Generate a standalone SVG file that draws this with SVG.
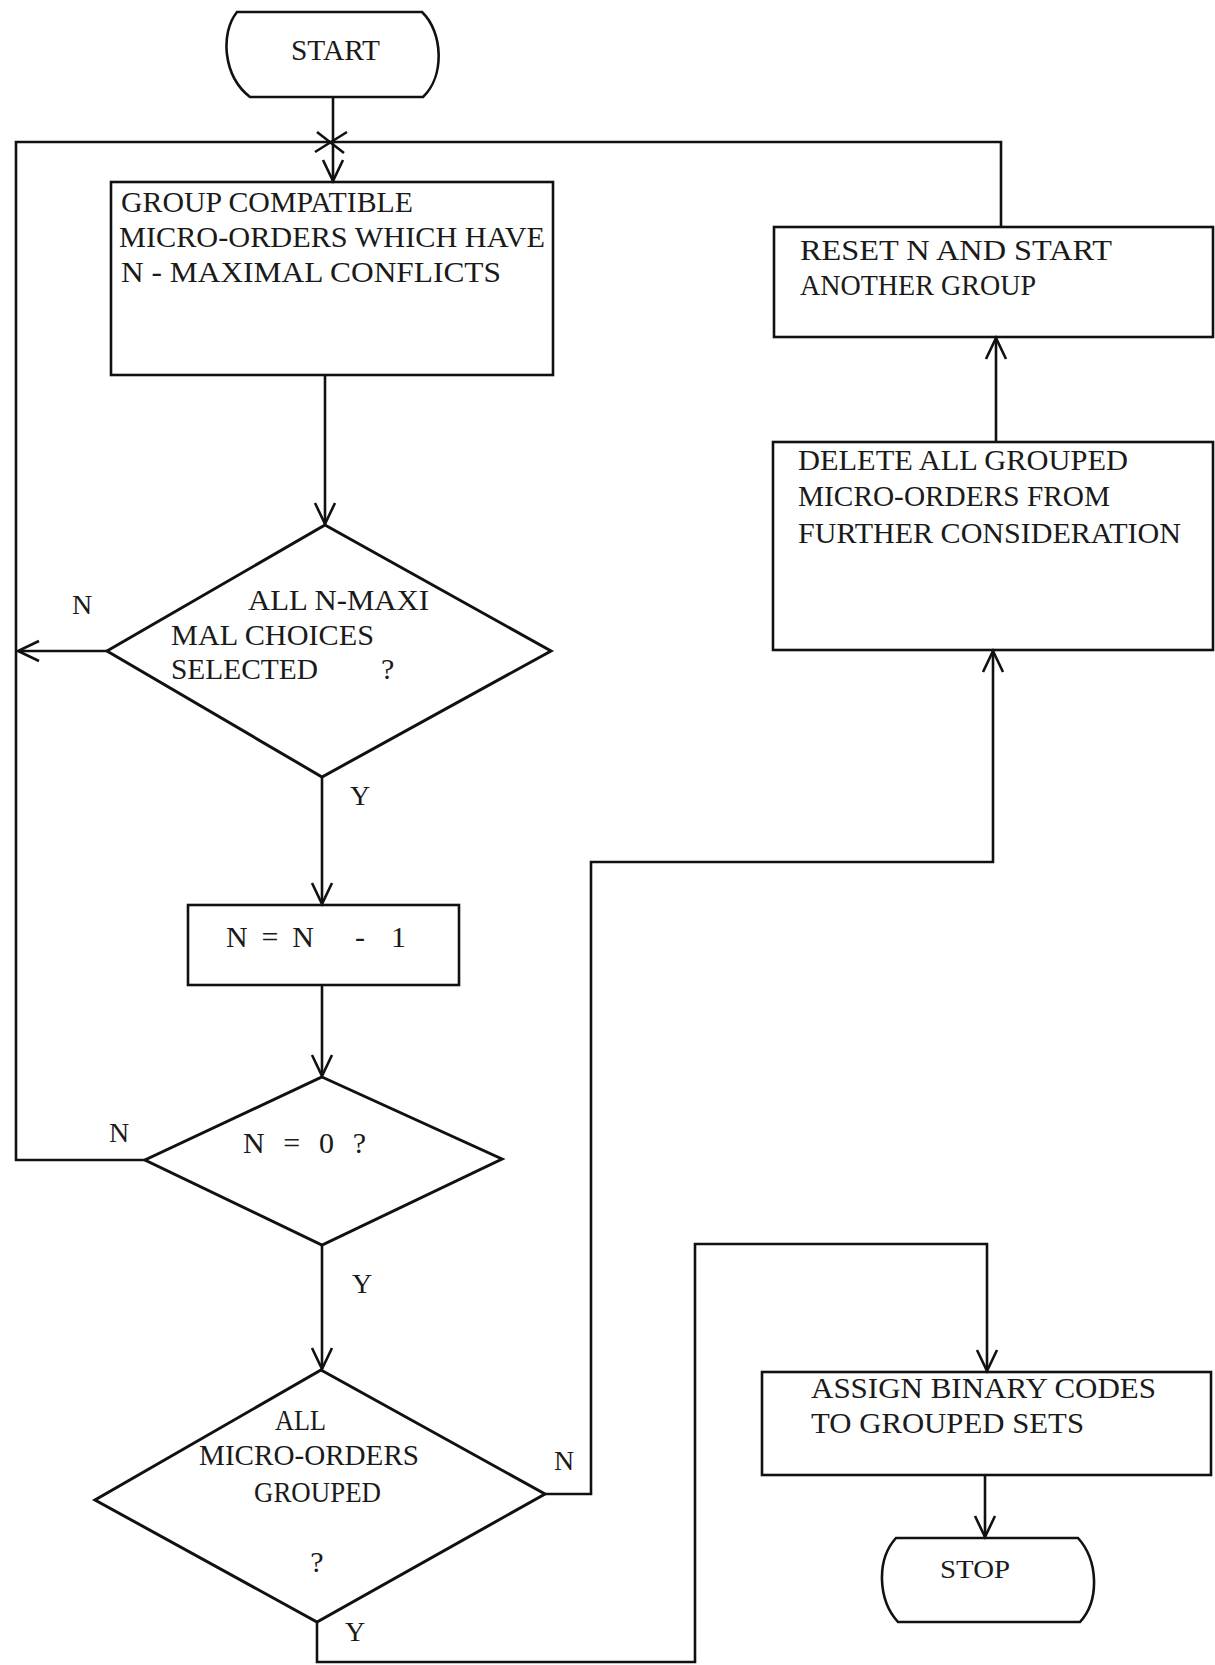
<svg xmlns="http://www.w3.org/2000/svg" width="1215" height="1665" viewBox="0 0 1215 1665">
<style>
.nd{fill:none;stroke:#111;stroke-width:2.6;stroke-linejoin:miter}
.dm{fill:none;stroke:#111;stroke-width:3;stroke-linejoin:miter}
.ln{fill:none;stroke:#111;stroke-width:2.6;stroke-linejoin:miter}
.t{font-family:"Liberation Serif","Times New Roman",serif;font-size:30px;fill:#1a1a1a}
.lb{font-family:"Liberation Serif","Times New Roman",serif;font-size:28px;fill:#1a1a1a;text-anchor:middle}
</style>
<defs>
<marker id="ah" markerUnits="userSpaceOnUse" markerWidth="30" markerHeight="30" viewBox="-25 -15 30 30" refX="0" refY="0" orient="auto">
<path d="M-21,-10 L0,0 L-21,10" fill="none" stroke="#111" stroke-width="2.6"/>
</marker>
</defs>
<rect width="1215" height="1665" fill="#fff"/>

<g id="start">
<path class="nd" d="M237,12 L422,12 C443,32 445,76 423,97 L250,97 C223,76 220,33 237,12 Z"/>
<text class="t" x="291" y="60" textLength="89" lengthAdjust="spacingAndGlyphs">START</text>
</g>

<g id="group-compatible">
<rect class="nd" x="111" y="182" width="442" height="193"/>
<text class="t" x="121" y="212" textLength="292" lengthAdjust="spacingAndGlyphs">GROUP COMPATIBLE</text>
<text class="t" x="119" y="247" textLength="426" lengthAdjust="spacingAndGlyphs">MICRO-ORDERS WHICH HAVE</text>
<text class="t" x="121" y="282" textLength="380" lengthAdjust="spacingAndGlyphs">N - MAXIMAL CONFLICTS</text>
</g>

<g id="all-n-maximal">
<polygon class="dm" points="325,525 551,651 322,777 107,651"/>
<text class="t" x="248" y="610" textLength="181" lengthAdjust="spacingAndGlyphs">ALL N-MAXI</text>
<text class="t" x="171" y="645" textLength="203" lengthAdjust="spacingAndGlyphs">MAL CHOICES</text>
<text class="t" x="171" y="679"><tspan textLength="147" lengthAdjust="spacingAndGlyphs">SELECTED</tspan> <tspan x="381">?</tspan></text>
</g>

<g id="decrement">
<rect class="nd" x="188" y="905" width="271" height="80"/>
<text class="t" x="226" y="947"><tspan textLength="88" lengthAdjust="spacing">N = N</tspan> <tspan x="355" textLength="51" lengthAdjust="spacing">- 1</tspan></text>
</g>

<g id="n-zero">
<polygon class="dm" points="322,1077 502,1159 322,1245 145,1160"/>
<text class="t" x="243" y="1153" textLength="123" lengthAdjust="spacing">N = 0 ?</text>
</g>

<g id="all-grouped">
<polygon class="dm" points="321,1370 545,1494 317,1622 95,1500"/>
<text class="t" x="275" y="1430" textLength="51" lengthAdjust="spacingAndGlyphs">ALL</text>
<text class="t" x="199" y="1465" textLength="220" lengthAdjust="spacingAndGlyphs">MICRO-ORDERS</text>
<text class="t" x="254" y="1502" textLength="127" lengthAdjust="spacingAndGlyphs">GROUPED</text>
<text class="t" x="317" y="1572" text-anchor="middle">?</text>
</g>

<g id="reset">
<rect class="nd" x="774" y="227" width="439" height="110"/>
<text class="t" x="800" y="260" textLength="312" lengthAdjust="spacingAndGlyphs">RESET N AND START</text>
<text class="t" x="800" y="295" textLength="236" lengthAdjust="spacingAndGlyphs">ANOTHER GROUP</text>
</g>

<g id="delete">
<rect class="nd" x="773" y="442" width="440" height="208"/>
<text class="t" x="798" y="470" textLength="330" lengthAdjust="spacingAndGlyphs">DELETE ALL GROUPED</text>
<text class="t" x="798" y="506" textLength="312" lengthAdjust="spacingAndGlyphs">MICRO-ORDERS FROM</text>
<text class="t" x="798" y="543" textLength="383" lengthAdjust="spacingAndGlyphs">FURTHER CONSIDERATION</text>
</g>

<g id="assign">
<rect class="nd" x="762" y="1372" width="449" height="103"/>
<text class="t" x="811" y="1398" textLength="345" lengthAdjust="spacingAndGlyphs">ASSIGN BINARY CODES</text>
<text class="t" x="811" y="1433" textLength="273" lengthAdjust="spacingAndGlyphs">TO GROUPED SETS</text>
</g>

<g id="stop">
<path class="nd" d="M896,1538 L1078,1538 C1098,1560 1100,1600 1080,1622 L898,1622 C878,1600 876,1560 896,1538 Z"/>
<text class="t" x="940" y="1578" style="font-size:25px" textLength="70" lengthAdjust="spacingAndGlyphs">STOP</text>
</g>

<g id="connectors">
<path class="ln" d="M333,97 V181" marker-end="url(#ah)"/>
<path class="ln" d="M145,1160 H16 V142 H1001 V227"/>
<path class="ln" d="M317,132 L344,153 M315,152 L347,132"/>
<path class="ln" d="M325,375 V524" marker-end="url(#ah)"/>
<path class="ln" d="M107,651 H18" marker-end="url(#ah)"/>
<path class="ln" d="M322,777 V904" marker-end="url(#ah)"/>
<path class="ln" d="M322,985 V1076" marker-end="url(#ah)"/>
<path class="ln" d="M322,1245 V1369" marker-end="url(#ah)"/>
<path class="ln" d="M545,1494 H591 V862 H993 V651" marker-end="url(#ah)"/>
<path class="ln" d="M996,442 V338" marker-end="url(#ah)"/>
<path class="ln" d="M317,1622 V1662 H695 V1244 H987 V1371" marker-end="url(#ah)"/>
<path class="ln" d="M985,1475 V1537" marker-end="url(#ah)"/>
<text class="lb" x="82" y="614">N</text>
<text class="lb" x="360" y="805">Y</text>
<text class="lb" x="119" y="1142">N</text>
<text class="lb" x="362" y="1293">Y</text>
<text class="lb" x="564" y="1470">N</text>
<text class="lb" x="355" y="1641">Y</text>
</g>
</svg>
